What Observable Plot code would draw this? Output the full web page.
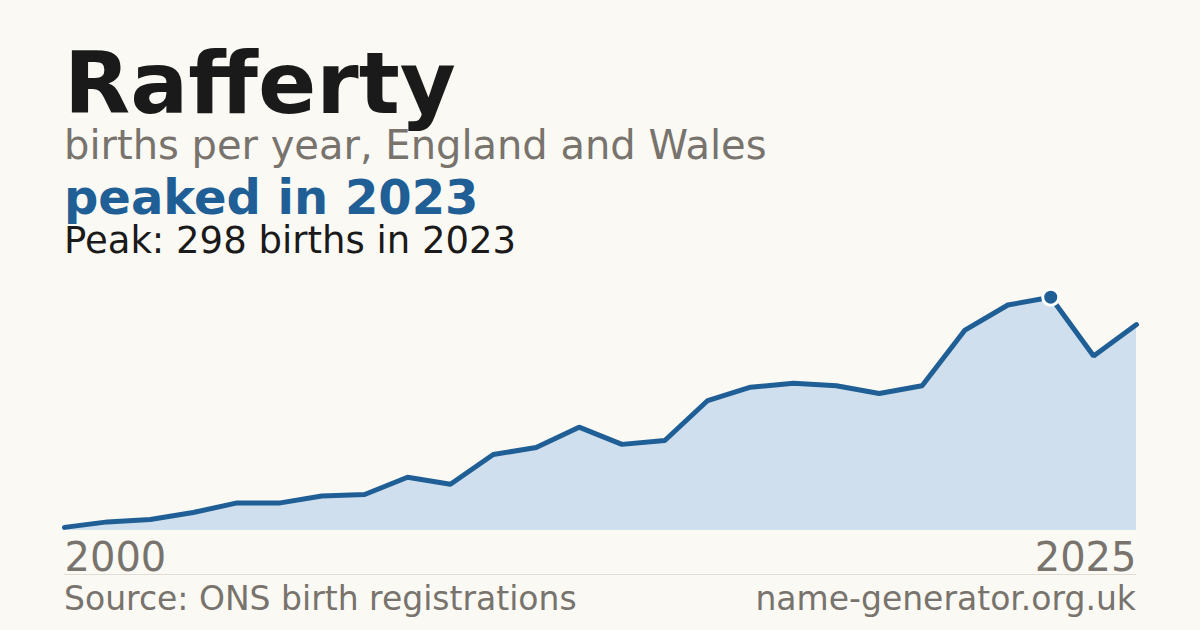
<!DOCTYPE html>
<html>
<head>
<meta charset="utf-8">
<script src="https://cdn.jsdelivr.net/npm/d3@7"></script>
<script src="https://cdn.jsdelivr.net/npm/@observablehq/plot@0.6"></script>
<style>
  html, body { margin: 0; padding: 0; background: #faf9f4; }
  #page { position: relative; width: 1200px; height: 630px; overflow: hidden; background: #faf9f4; font-family: "DejaVu Sans", sans-serif; }
  .t { position: absolute; left: 64px; line-height: 1; white-space: nowrap; margin: 0; }
  #title { top: 40px; font-size: 86px; font-weight: bold; color: #1a1a1a; }
  #subtitle { top: 125px; font-size: 40px; color: #78736c; }
  #headline { top: 173px; font-size: 48px; font-weight: bold; color: #1f5f96; }
  #peak { top: 222px; font-size: 37px; color: #1a1a1a; }
  #chart { position: absolute; left: 0; top: 270px; }
  #rule { position: absolute; left: 64px; width: 1072px; top: 574px; height: 1px; background: #e2ddd4; }
  .foot { position: absolute; top: 582px; font-size: 33px; line-height: 1; color: #78736c; white-space: nowrap; }
  #source { left: 64px; }
  #site { right: 64px; }
</style>
</head>
<body>
<div id="page">
  <div class="t" id="title">Rafferty</div>
  <div class="t" id="subtitle">births per year, England and Wales</div>
  <div class="t" id="headline">peaked in 2023</div>
  <div class="t" id="peak">Peak: 298 births in 2023</div>
  <div id="chart"></div>
  <div id="rule"></div>
  <div class="foot" id="source">Source: ONS birth registrations</div>
  <div class="foot" id="site">name-generator.org.uk</div>
</div>
<script>
const years = [2000, 2001, 2002, 2003, 2004, 2005, 2006, 2007, 2008, 2009, 2010, 2011, 2012,
               2013, 2014, 2015, 2016, 2017, 2018, 2019, 2020, 2021, 2022, 2023, 2024, 2025];
const births = [4, 11, 14, 23, 35, 35, 44, 46, 68, 59, 97, 106, 132,
                110, 115, 166, 183, 188, 185, 175, 185, 256, 288, 298, 223, 263];
const tickStart = [2000];
const tickEnd = [2025];

const data = years.map((year, i) => ({year, births: births[i]}));
const maxBirths = d3.max(births);
const peak = data.filter(d => d.births === maxBirths);

const blue = "#1f5f96";
const grey = "#78736c";

const chart = Plot.plot({
  width: 1200,
  height: 310,
  marginLeft: 64,
  marginRight: 64,
  marginTop: 26.7,
  marginBottom: 50,
  style: { background: "transparent", fontFamily: "DejaVu Sans, sans-serif", overflow: "visible" },
  x: { domain: [2000, 2025], axis: null, label: null },
  y: { domain: [0, maxBirths], axis: null },
  marks: [
    Plot.areaY(data, { x: "year", y: "births", fill: "#cfdfee" }),
    Plot.lineY(data, { x: "year", y: "births", stroke: blue, strokeWidth: 5, strokeLinejoin: "miter" }),
    Plot.dot(peak, { x: "year", y: "births", r: 8, fill: blue, stroke: "white", strokeWidth: 3 }),
    Plot.axisX(tickStart, { tickSize: 0, tickPadding: 12, fontSize: 40, textAnchor: "start", color: grey, label: null, tickFormat: d => String(d) }),
    Plot.axisX(tickEnd, { tickSize: 0, tickPadding: 12, fontSize: 40, textAnchor: "end", color: grey, label: null, tickFormat: d => String(d) })
  ]
});
document.getElementById("chart").appendChild(chart);
</script>
</body>
</html>
